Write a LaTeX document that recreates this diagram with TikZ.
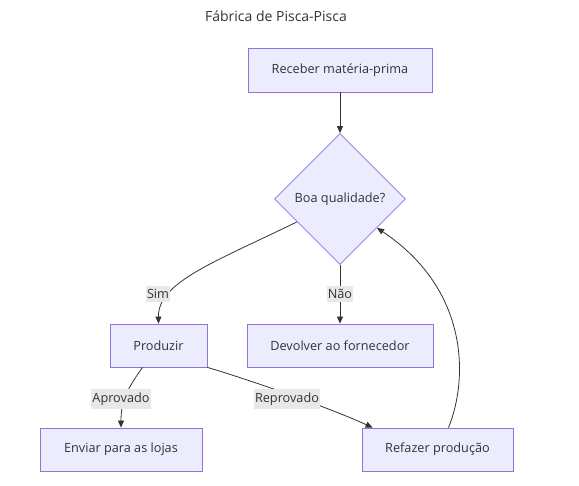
\documentclass[tikz,border=0pt]{standalone}
\usepackage{fontspec}
\setmainfont{Open Sans}
\usetikzlibrary{shapes.geometric,arrows.meta,calc}
\definecolor{nodefill}{HTML}{ECECFF}
\definecolor{nodeline}{HTML}{9370DB}
\definecolor{edgecol}{HTML}{333333}
\definecolor{lblbg}{HTML}{E8E8E8}
\tikzset{
  box/.style={draw=nodeline, fill=nodefill, line width=0.8pt, inner sep=0pt, text=edgecol, font=\fontsize{12.7}{15}\selectfont},
  decision/.style={diamond, aspect=1, draw=nodeline, fill=nodefill, line width=0.8pt, minimum width=131pt, minimum height=131pt, inner sep=0pt, text=edgecol, font=\fontsize{12.7}{15}\selectfont},
  edge/.style={draw=edgecol, line width=0.8pt, -{Triangle[length=7pt,width=6pt]}},
  lbl/.style={fill=lblbg, inner xsep=1pt, inner ysep=3.5pt, text=edgecol, font=\fontsize{12.7}{15}\selectfont},
  ttl/.style={text=edgecol, font=\fontsize{14}{17}\selectfont}
}
\begin{document}
\begin{tikzpicture}[x=1pt,y=-1pt]
\useasboundingbox (0,0) rectangle (579,486);
\node[ttl] (title) at (276,16) {Fábrica de Pisca-Pisca};
\node[box, minimum width=184pt, minimum height=44pt] (a) at (340,70) {Receber matéria-prima};
\node[decision] (q) at (340,199) {Boa qualidade?};
\node[box, minimum width=97pt, minimum height=43pt] (p) at (158.5,345.5) {Produzir};
\node[box, minimum width=186pt, minimum height=43pt] (d) at (340,345.5) {Devolver ao fornecedor};
\node[box, minimum width=162pt, minimum height=43pt] (e) at (121,449.5) {Enviar para as lojas};
\node[box, minimum width=151pt, minimum height=43pt] (r) at (437.5,449.5) {Refazer produção};

\coordinate (ps) at ($(p.south)+(-16,0)$);
\coordinate (rt) at ($(r.north west)+(11,0)$);
\coordinate (rs) at ($(r.north)+(11,0)$);

\draw[edge] (a) -- (q);
\draw[edge] (q.208) .. controls (215,262) and (158,282) .. (p.north);
\draw[edge] (q.south) -- (d.north);
\draw[edge] (ps) .. controls (128,388) and (121,400) .. (e.north);
\draw[edge] (p.south east) .. controls (250,380) and (330,408) .. (rt);
\draw[edge] (rs) .. controls (468,380) and (470,290) .. (q.322);

\node[lbl] (l1) at (158,294) {Sim};
\node[lbl] (l2) at (340,294) {Não};
\node[lbl] (l3) at (121,399) {Aprovado};
\node[lbl] (l4) at (287,399) {Reprovado};
\end{tikzpicture}
\end{document}
